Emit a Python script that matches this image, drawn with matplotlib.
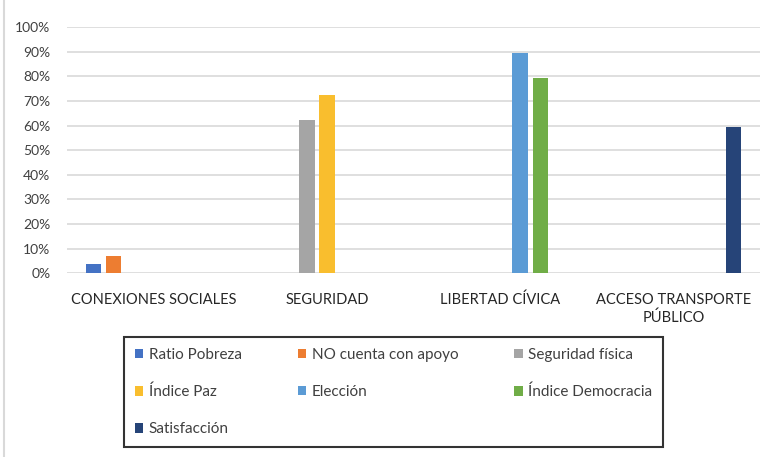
import matplotlib
matplotlib.use("Agg")
import matplotlib.pyplot as plt
import numpy as np
from matplotlib.patches import Patch
from matplotlib.lines import Line2D
from matplotlib.ticker import PercentFormatter

plt.rcParams['font.family'] = ['Lato', 'DejaVu Sans']

categories = ["CONEXIONES SOCIALES", "SEGURIDAD", "LIBERTAD CÍVICA", "ACCESO TRANSPORTE\nPÚBLICO"]
series = ["Ratio Pobreza", "NO cuenta con apoyo", "Seguridad física", "Índice Paz",
          "Elección", "Índice Democracia", "Satisfacción"]
colors = ["#4472C4", "#ED7D31", "#A5A5A5", "#F9BE2E", "#5B9BD5", "#70AD47", "#264478"]
# one row per series, one value per category (0 = no bar)
values = [
    [0.037, 0, 0, 0],
    [0.070, 0, 0, 0],
    [0, 0.623, 0, 0],
    [0, 0.725, 0, 0],
    [0, 0, 0.895, 0],
    [0, 0, 0.794, 0],
    [0, 0, 0, 0.596],
]

fig = plt.figure(figsize=(7.74, 4.57), dpi=100)
ax = fig.add_axes([67/774, 1-273.3/457, (760-67)/774, (273.3-27)/457])

x = np.arange(len(categories))
slot = 0.116
width = 0.09
for i, (name, col, vals) in enumerate(zip(series, colors, values)):
    ax.bar(x + (i - 3) * slot, vals, width, color=col, label=name, zorder=3)

ax.set_xlim(-0.5, len(categories) - 0.5)
ax.set_ylim(0, 1)
ax.set_yticks(np.arange(0, 1.01, 0.1))
ax.yaxis.set_major_formatter(PercentFormatter(1.0, decimals=0))
ax.grid(axis='y', color='#D9D9D9', linewidth=1.2, zorder=0)
for s in ax.spines.values():
    s.set_visible(False)
ax.tick_params(axis='both', length=0, labelsize=10, colors='#404040')
ax.tick_params(axis='y', pad=12)
ax.tick_params(axis='x', pad=14, labelsize=10.5)
ax.set_xticks(x)
ax.set_xticklabels(categories, color='#262626', linespacing=1.3)

# left border of the chart area
fig.add_artist(Line2D([4/774, 4/774], [0, 1], transform=fig.transFigure,
                      color='#D9D9D9', linewidth=1.5))

handles = [Patch(facecolor=c, label=s) for s, c in zip(series, colors)]
order = [0, 3, 6, 1, 4, 2, 5]
leg = fig.legend([handles[i] for i in order], [series[i] for i in order], ncol=3,
                 loc='upper left', bbox_to_anchor=(124/774, 1-337/457, 539/774, 0),
                 mode='expand', borderaxespad=0, fontsize=11,
                 handlelength=0.55, handleheight=0.55, handletextpad=0.35,
                 labelspacing=1.5, borderpad=0.72, fancybox=False, frameon=True)
leg.get_frame().set_edgecolor('black')
leg.get_frame().set_linewidth(1.5)
for t in leg.get_texts():
    t.set_color('#404040')

fig.savefig("out.png", dpi=100)
